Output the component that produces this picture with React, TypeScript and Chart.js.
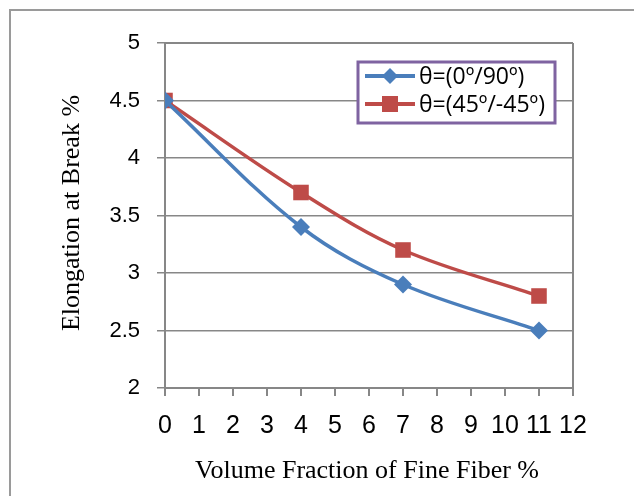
import React, { useEffect, useRef } from "react";
import { Chart, registerables } from "chart.js";

Chart.register(...registerables);

const xValues = [0, 4, 7, 11];
const series0_90 = [4.5, 3.4, 2.9, 2.5];
const series45 = [4.5, 3.7, 3.2, 2.8];
const seriesLabels = ["θ=(0º/90º)", "θ=(45º/-45º)"];
const xTitle = "Volume Fraction of Fine Fiber %";
const yTitle = "Elongation at Break %";

const BLUE = "#4A7EBB";
const RED = "#BE4B48";
const GRID = "#878787";

const decorPlugin = {
  id: "decor",
  beforeDraw(chart: any) {
    const ctx = chart.ctx;
    ctx.save();
    ctx.fillStyle = "#ffffff";
    ctx.fillRect(0, 0, chart.width, chart.height);
    ctx.strokeStyle = "#9a9a9a";
    ctx.lineWidth = 2;
    ctx.strokeRect(10, 10, 800, 800);
    ctx.restore();
  },
  beforeDatasetsDraw(chart: any) {
    const ctx = chart.ctx;
    const a = chart.chartArea;
    ctx.save();
    ctx.strokeStyle = GRID;
    ctx.lineWidth = 2;
    ctx.beginPath();
    ctx.moveTo(a.left, a.top);
    ctx.lineTo(a.right, a.top);
    ctx.moveTo(a.right, a.top);
    ctx.lineTo(a.right, a.bottom);
    ctx.moveTo(a.left, a.top);
    ctx.lineTo(a.left, a.bottom);
    ctx.stroke();
    ctx.restore();
  },
  afterDraw(chart: any) {
    const ctx = chart.ctx;
    ctx.save();
    ctx.fillStyle = "#000";
    ctx.font = "26px 'Liberation Serif'";
    ctx.textAlign = "center";
    ctx.textBaseline = "middle";
    ctx.fillText(xTitle, 367, 471);
    ctx.translate(72, 213);
    ctx.rotate(-Math.PI / 2);
    ctx.fillText(yTitle, 0, 0);
    ctx.restore();

    ctx.save();
    const lx = 358, ly = 62, lw = 197, lh = 61;
    ctx.fillStyle = "#fff";
    ctx.fillRect(lx, ly, lw, lh);
    ctx.strokeStyle = "#7F63A1";
    ctx.lineWidth = 3;
    ctx.strokeRect(lx, ly, lw, lh);
    const rows = [76, 104];
    chart.data.datasets.forEach((ds: any, i: number) => {
      const y = rows[i];
      ctx.strokeStyle = ds.borderColor;
      ctx.lineWidth = 4;
      ctx.beginPath();
      ctx.moveTo(365, y);
      ctx.lineTo(415, y);
      ctx.stroke();
      ctx.fillStyle = ds.borderColor;
      if (ds.pointStyle === "rectRot") {
        ctx.beginPath();
        ctx.moveTo(390 - 8, y);
        ctx.lineTo(390, y - 8);
        ctx.lineTo(390 + 8, y);
        ctx.lineTo(390, y + 8);
        ctx.closePath();
        ctx.fill();
      } else {
        ctx.fillRect(390 - 8, y - 8, 16, 16);
      }
      ctx.fillStyle = "#000";
      ctx.font = "23px 'Open Sans'";
      ctx.textAlign = "left";
      ctx.textBaseline = "middle";
      ctx.fillText(ds.label, 419, y + 1);
    });
    ctx.restore();
  },
};

export default function App() {
  const ref = useRef<HTMLCanvasElement | null>(null);
  useEffect(() => {
    if (!ref.current) return;
    const chart = new Chart(ref.current, {
      type: "line",
      data: {
        datasets: [
          {
            label: seriesLabels[0],
            data: xValues.map((x, i) => ({ x, y: series0_90[i] })),
            borderColor: BLUE,
            backgroundColor: BLUE,
            borderWidth: 3.5,
            pointStyle: "rectRot",
            pointRadius: 9,
            pointBorderWidth: 0,
            tension: 0.35,
          },
          {
            label: seriesLabels[1],
            data: xValues.map((x, i) => ({ x, y: series45[i] })),
            borderColor: RED,
            backgroundColor: RED,
            borderWidth: 3.5,
            pointStyle: "rect",
            pointRadius: 11,
            pointBorderWidth: 0,
            tension: 0.35,
          },
        ],
      },
      options: {
        animation: false,
        responsive: false,
        layout: { padding: { top: 43, right: 61, left: 0, bottom: 0 } },
        plugins: { legend: { display: false }, tooltip: { enabled: false } },
        scales: {
          x: {
            type: "linear",
            min: 0,
            max: 12,
            ticks: {
              stepSize: 1,
              color: "#000",
              padding: 15,
              autoSkip: false,
              maxRotation: 0,
              minRotation: 0,
              font: { family: "'Liberation Sans'", size: 25 },
            },
            grid: {
              drawOnChartArea: false,
              drawTicks: true,
              tickLength: 8,
              color: GRID,
              lineWidth: 2,
            },
            border: { color: GRID, width: 2 },
            afterFit: (s: any) => {
              s.height = 108;
            },
          },
          y: {
            min: 2,
            max: 5,
            ticks: {
              stepSize: 0.5,
              color: "#000",
              padding: 17,
              font: { family: "'Liberation Sans'", size: 22 },
              callback: (v: any) => String(Number(v)),
            },
            grid: { color: GRID, lineWidth: 1.5, tickLength: 8 },
            border: { color: GRID, width: 2 },
            afterFit: (s: any) => {
              s.width = 165;
            },
          },
        },
      } as any,
      plugins: [decorPlugin],
    });
    return () => chart.destroy();
  }, []);
  return (
    <div style={{ position: "absolute", left: 0, top: 0, width: 634, height: 496 }}>
      <canvas ref={ref} width={634} height={496} style={{ width: 634, height: 496 }} />
    </div>
  );
}
